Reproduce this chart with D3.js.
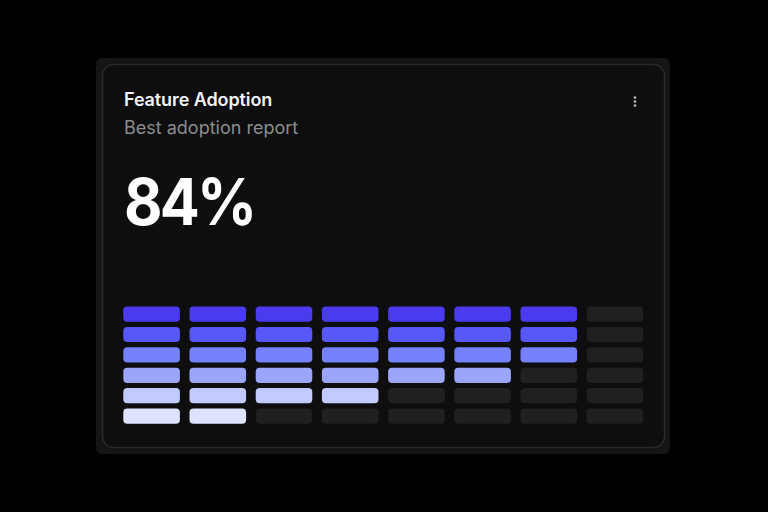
<!DOCTYPE html>
<html><head><meta charset="utf-8">
<script src="https://cdn.jsdelivr.net/npm/d3@7"></script>
<style>
html,body{margin:0;padding:0;background:#000;}
svg{display:block;font-family:Inter,"Noto Sans",sans-serif;}
</style></head>
<body><svg id="c" width="768" height="512"></svg>
<script>
const title = "Feature Adoption";
const subtitle = "Best adoption report";
const headline = "84%";
const columns = ["C1","C2","C3","C4","C5","C6","C7","C8"];
const filled = [6, 6, 5, 5, 4, 4, 3, 0];
const levels = [1, 2, 3, 4, 5, 6];
const levelColors = ["#4a3bef", "#5758f7", "#7580fb", "#9ba6fb", "#c3caff", "#dfe3ff"];
const emptyColor = "#202020";

const svg = d3.select("#c");
// outer frame
svg.append("rect").attr("x",96).attr("y",58).attr("width",574).attr("height",396)
  .attr("rx",6).attr("fill","#151515");
// inner card
svg.append("rect").attr("x",102.5).attr("y",64.5).attr("width",562).attr("height",383)
  .attr("rx",11).attr("fill","#0e0e0e").attr("stroke","#2a2a2a").attr("stroke-width",1.5);

svg.append("text").attr("x",124).attr("y",106).text(title)
  .attr("fill","#f4f4f4").attr("font-size",18).attr("font-weight",600).attr("letter-spacing",-0.1);
svg.append("text").attr("x",124).attr("y",134).text(subtitle)
  .attr("fill","#8c8c8c").attr("font-size",18).attr("font-weight",400);
svg.append("text").attr("transform","translate(124,225) scale(0.925,1)").text(headline)
  .attr("fill","#ffffff").attr("font-size",64).attr("font-weight",700).attr("letter-spacing",-3);

// menu dots
svg.append("g").selectAll("circle").data([0,1,2]).join("circle")
  .attr("cx",635).attr("cy",d=>97.5+d*4).attr("r",1.3).attr("fill","#bbbbbb");

const x = d3.scaleBand().domain(columns).range([123.3, 643.3+9.6]).paddingInner(0).paddingOuter(0);
const y = d3.scaleBand().domain(levels).range([306.5, 306.5+6*20.4]);
const cw = x.bandwidth() - 9.6;
const ch = 15.2;
const color = d3.scaleOrdinal().domain(levels).range(levelColors);

const cells = [];
columns.forEach((c,i)=>levels.forEach(l=>cells.push({c, l, on: l <= filled[i]})));
svg.append("g").selectAll("rect").data(cells).join("rect")
  .attr("x",d=>x(d.c)).attr("y",d=>y(d.l))
  .attr("width",cw).attr("height",ch).attr("rx",4)
  .attr("fill",d=>d.on ? color(d.l) : emptyColor);
</script></body></html>
